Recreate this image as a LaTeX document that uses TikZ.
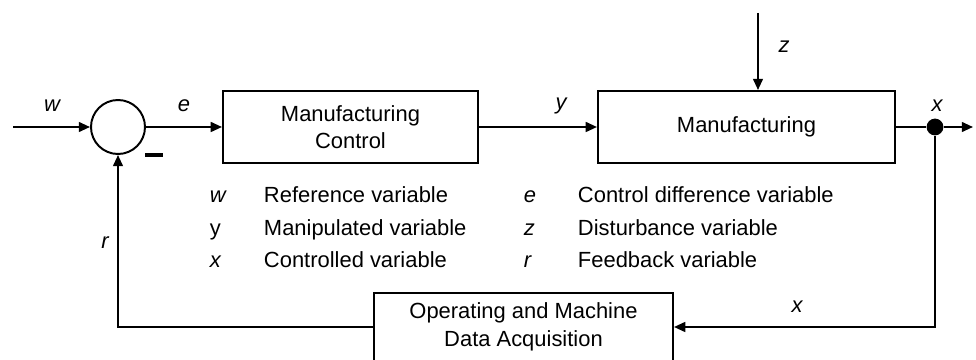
\documentclass[tikz,border=0pt]{standalone}
\usepackage{fontspec}
\setmainfont{Liberation Sans}
\usetikzlibrary{positioning, arrows.meta, calc}

\begin{document}
\begin{tikzpicture}[x=0.025cm, y=-0.025cm, line width=1.4pt,
    every node/.style={font=\fontsize{15.6}{19.5}\selectfont},
    block/.style={draw, rectangle, align=center, inner sep=0pt},
    sig/.style={-{Triangle[length=8pt, width=7pt]}},
    lbl/.style={font=\fontsize{15.6}{19.5}\selectfont\itshape}]
  \useasboundingbox (0,0) rectangle (976,360);
  % blocks
  \node[draw, circle, minimum size=1.35cm, inner sep=0pt] (sum) at (118,127) {};
  \node[block, minimum width=6.375cm, minimum height=1.8cm] (ctrl) at (350.5,127) {Manufacturing\\Control};
  \node[block, minimum width=7.425cm, minimum height=1.8cm] (mfg) at (746.5,127) {Manufacturing};
  \node[block, minimum width=7.475cm, minimum height=1.7cm] (daq) at (523.5,327) {Operating and Machine\\Data Acquisition};
  \node[circle, fill, minimum size=0.42cm, inner sep=0pt] (dot) at (935,127) {};
  \coordinate (in) at (13,127);
  \coordinate (out) at (973,127);
  \coordinate (ztop) at (758,13);
  % signals
  \draw[sig] (in) -- (sum.west);
  \draw[sig] (sum.east) -- (ctrl.west);
  \draw[sig] (ctrl.east) -- (mfg.west);
  \draw[sig] (ztop) -- (ztop |- mfg.north);
  \draw (mfg.east) -- (dot);
  \draw[sig] (dot) -- (out);
  \draw[sig] (dot) |- (daq.east);
  \draw[sig] (daq.west) -| (sum.south);
  \draw[line width=3pt] (145,155) -- (163,155);
  % labels
  \node[lbl] (lw) at (52,106) {w};
  \node[lbl] (le) at (184,106) {e};
  \node[lbl] (ly) at (561,106) {y};
  \node[lbl] (lz) at (784,47) {z};
  \node[lbl] (lx) at (937,106) {x};
  \node[lbl] (lr) at (105,243) {r};
  \node[lbl] (lx2) at (797,307) {x};
  % legend
  \node[lbl, anchor=base west, inner sep=0pt] (sw) at (209,203) {w};
  \node[anchor=base west, inner sep=0pt] (sy) at (209,236) {y};
  \node[lbl, anchor=base west, inner sep=0pt] (sx) at (209,268) {x};
  \node[anchor=base west, inner sep=0pt] (tw) at (263,203) {Reference variable};
  \node[anchor=base west, inner sep=0pt] (ty) at (263,236) {Manipulated variable};
  \node[anchor=base west, inner sep=0pt] (tx) at (263,268) {Controlled variable};
  \node[lbl, anchor=base west, inner sep=0pt] (se) at (523,203) {e};
  \node[lbl, anchor=base west, inner sep=0pt] (sz) at (523,236) {z};
  \node[lbl, anchor=base west, inner sep=0pt] (sr) at (523,268) {r};
  \node[anchor=base west, inner sep=0pt] (te) at (577,203) {Control difference variable};
  \node[anchor=base west, inner sep=0pt] (tz) at (577,236) {Disturbance variable};
  \node[anchor=base west, inner sep=0pt] (tr) at (577,268) {Feedback variable};
\end{tikzpicture}
\end{document}
